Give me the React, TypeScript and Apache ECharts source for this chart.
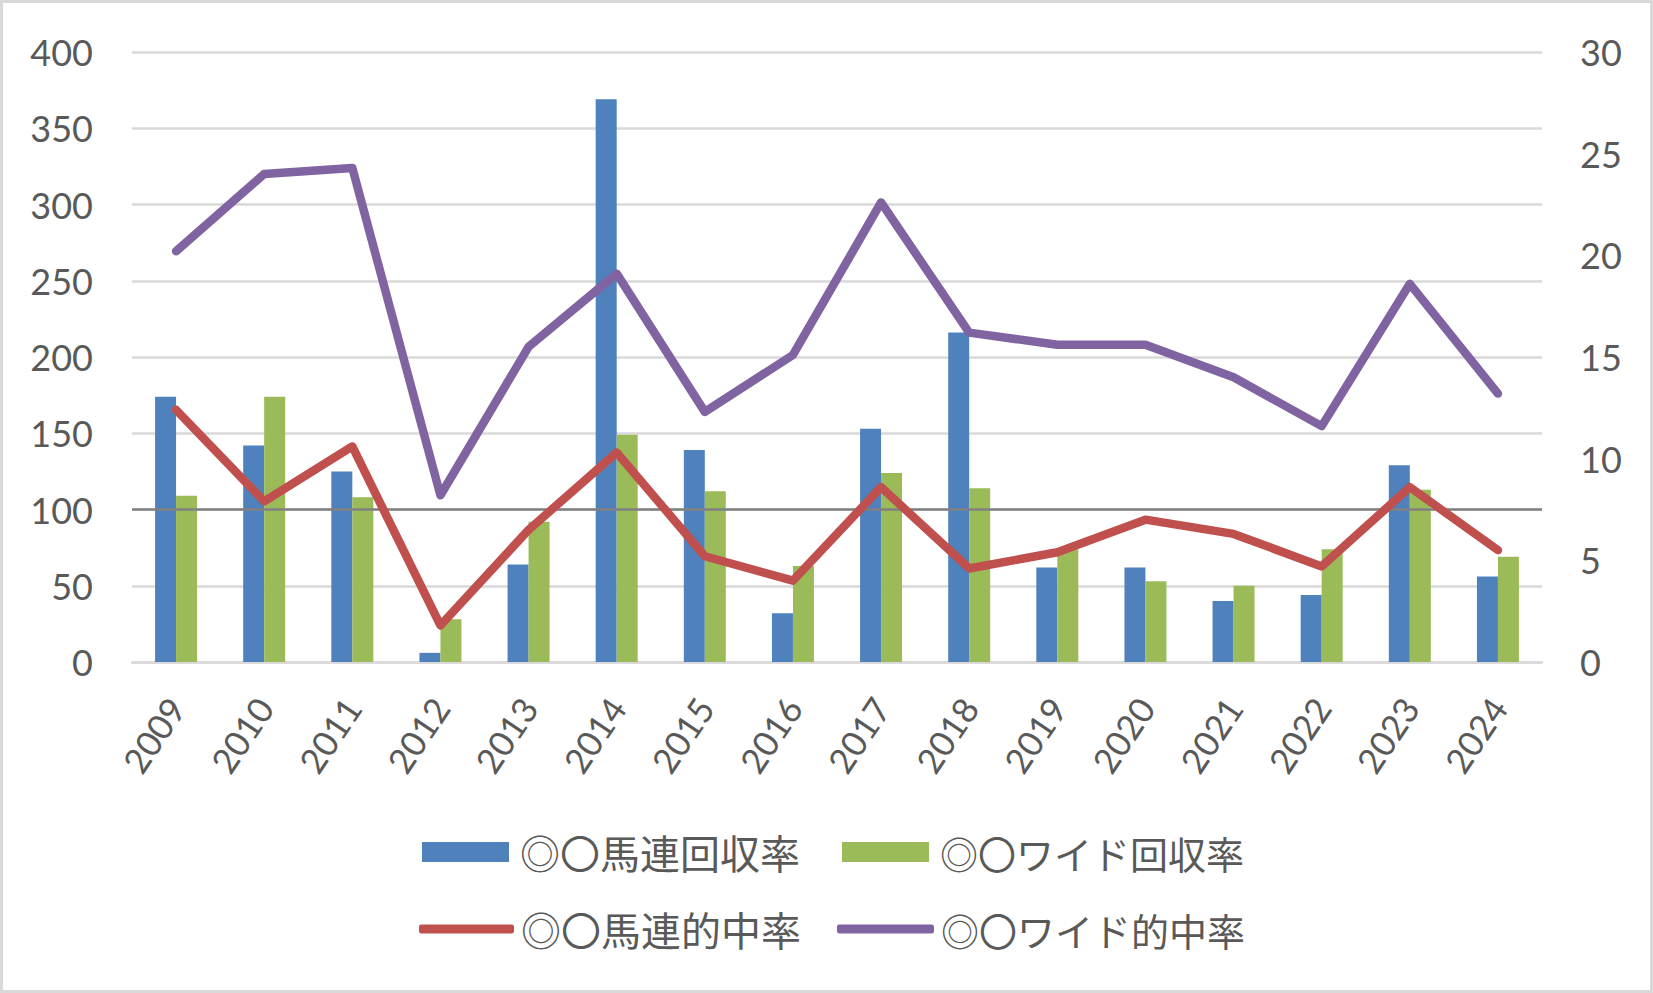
import React, { useEffect, useRef } from "react";
import * as echarts from "echarts";

const years = ["2009", "2010", "2011", "2012", "2013", "2014", "2015", "2016", "2017", "2018", "2019", "2020", "2021", "2022", "2023", "2024"];
const umarenReturn = [174, 142, 125, 6, 64, 369, 139, 32, 153, 216, 62, 62, 40, 44, 129, 56];
const wideReturn = [109, 174, 108, 28, 92, 149, 112, 63, 124, 114, 74, 53, 50, 74, 113, 69];
const umarenHit = [12.4, 7.9, 10.6, 1.8, 6.5, 10.3, 5.2, 4.0, 8.6, 4.6, 5.4, 7.0, 6.3, 4.7, 8.6, 5.5];
const wideHit = [20.2, 24.0, 24.3, 8.2, 15.5, 19.1, 12.3, 15.1, 22.6, 16.2, 15.6, 15.6, 14.0, 11.6, 18.6, 13.2];
const leftTicks = { min: 0, max: 400, interval: 50 };
const rightTicks = { min: 0, max: 30, interval: 5 };
const names = ["◎〇馬連回収率", "◎〇ワイド回収率", "◎〇馬連的中率", "◎〇ワイド的中率"];

const BLUE = "#4f81bd";
const GREEN = "#9bbb59";
const RED = "#c0504d";
const PURPLE = "#8064a2";
const TEXT = "#595959";
const NUM_FONT = "Lato, 'Noto Sans', sans-serif";
const JP_FONT = "'Noto Sans CJK JP', 'Noto Sans', sans-serif";

function legendItem(name: string, left: number, centerY: number, icon: string, w: number, h: number, padLeft: number, fontSize: number) {
  return {
    show: true,
    orient: "horizontal",
    left,
    top: centerY - 24,
    padding: 0,
    itemWidth: w,
    itemHeight: h,
    selectedMode: false,
    data: [{ name, icon }],
    textStyle: {
      color: TEXT,
      fontFamily: JP_FONT,
      fontSize,
      lineHeight: 48,
      padding: [0, 0, 0, padLeft],
    },
  };
}

export default function App() {
  const ref = useRef<HTMLDivElement>(null);
  useEffect(() => {
    document.body.style.margin = "0";
    if (!ref.current) return;
    const chart = echarts.init(ref.current, undefined, { renderer: "svg" });
    chart.setOption({
      animation: false,
      backgroundColor: "#ffffff",
      grid: { left: 129, top: 49, width: 1410, height: 610, containLabel: false },
      legend: [
        legendItem(names[0], 419, 849, "rect", 87, 20, 6, 40),
        legendItem(names[1], 839, 849, "rect", 87, 20, 6, 38),
        legendItem(names[2], 416, 926, "roundRect", 95, 9, 2, 40),
        legendItem(names[3], 834, 926, "roundRect", 97, 9, 2, 38),
      ],
      xAxis: {
        type: "category",
        data: years,
        boundaryGap: true,
        axisLine: { show: true, lineStyle: { color: "#d9d9d9", width: 2.5 } },
        axisTick: { show: false },
        axisLabel: {
          rotate: 56,
          margin: 39,
          color: TEXT,
          fontFamily: NUM_FONT,
          fontSize: 35,
          interval: 0,
        },
      },
      yAxis: [
        {
          type: "value",
          ...leftTicks,
          position: "left",
          axisLine: { show: false },
          axisTick: { show: false },
          axisLabel: { color: TEXT, fontFamily: NUM_FONT, fontSize: 36, margin: 39 },
          splitLine: { show: true, lineStyle: { color: "#d9d9d9", width: 2.5 } },
        },
        {
          type: "value",
          ...rightTicks,
          position: "right",
          axisLine: { show: false },
          axisTick: { show: false },
          axisLabel: { color: TEXT, fontFamily: NUM_FONT, fontSize: 36, margin: 38 },
          splitLine: { show: false },
        },
      ],
      series: [
        {
          name: names[0],
          type: "bar",
          data: umarenReturn,
          yAxisIndex: 0,
          barWidth: 21,
          barGap: "0%",
          itemStyle: { color: BLUE },
          markLine: {
            silent: true,
            symbol: "none",
            label: { show: false },
            lineStyle: { color: "#808080", width: 2.5, type: "solid" },
            data: [{ yAxis: 100 }],
          },
        },
        {
          name: names[1],
          type: "bar",
          data: wideReturn,
          yAxisIndex: 0,
          barWidth: 21,
          barGap: "0%",
          itemStyle: { color: GREEN },
        },
        {
          name: names[2],
          type: "line",
          data: umarenHit,
          yAxisIndex: 1,
          symbol: "none",
          itemStyle: { color: RED },
          lineStyle: { color: RED, width: 8.5, cap: "round", join: "round" },
          z: 5,
        },
        {
          name: names[3],
          type: "line",
          data: wideHit,
          yAxisIndex: 1,
          symbol: "none",
          itemStyle: { color: PURPLE },
          lineStyle: { color: PURPLE, width: 8.5, cap: "round", join: "round" },
          z: 5,
        },
      ],
    });
    return () => chart.dispose();
  }, []);
  return (
    <div style={{ width: 1653, height: 993, border: "3px solid #d9d9d9", boxSizing: "border-box", background: "#fff" }}>
      <div ref={ref} style={{ width: 1647, height: 987 }} />
    </div>
  );
}
